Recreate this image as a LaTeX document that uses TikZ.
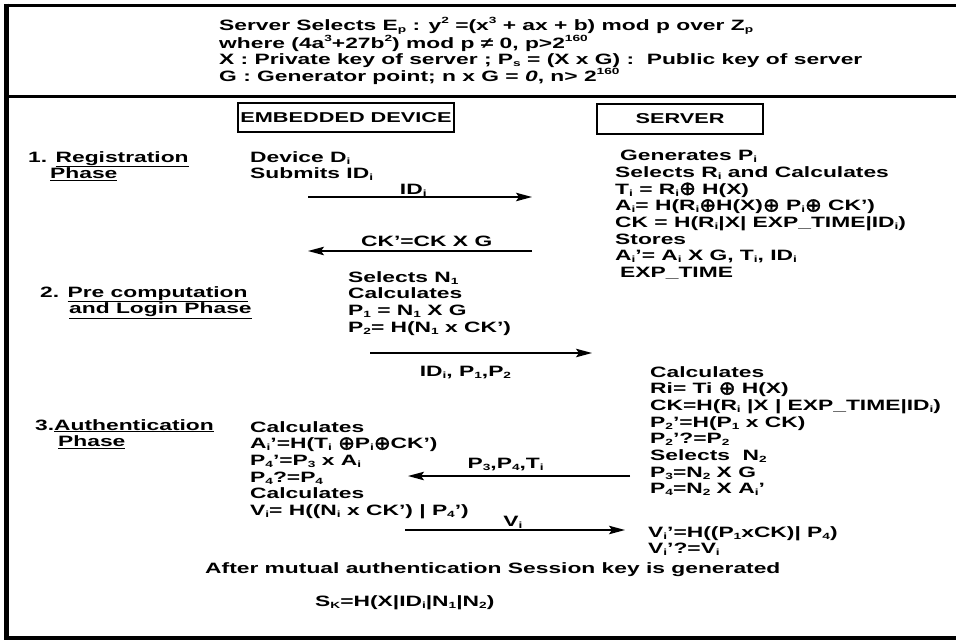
\documentclass[tikz,border=0pt]{standalone}
\usepackage{fontspec}
\setmainfont{Liberation Sans}[FakeStretch=1.52]
\newfontfamily\dvfont{DejaVu Sans}[FakeStretch=1.05, FakeBold=2]
\usetikzlibrary{arrows.meta}

\newcommand\sbs[1]{\raisebox{-0.25ex}{\fontsize{9}{9}\selectfont #1}}
\newcommand\sps[1]{\raisebox{0.85ex}{\fontsize{9}{9}\selectfont #1}}
\newcommand\xor{\raisebox{-0.8pt}{\dvfont\mdseries\fontsize{19}{19}\selectfont ⊕}}

\begin{document}
\begin{tikzpicture}[x=1pt, y=-1pt,
    every node/.style={font=\fontsize{15}{16.7}\selectfont\bfseries},
    txt/.style={anchor=north west, align=left, inner sep=0pt},
    hdrbox/.style={draw, line width=1.6pt, inner sep=0pt, font=\fontsize{14.3}{16}\selectfont\bfseries},
    lbl/.style={inner sep=1pt},
    msg/.style={line width=1.4pt, -{Stealth[length=16pt, width=8.5pt, inset=3pt]}}]
    \useasboundingbox (0,0) rectangle (956,641);

    % frame
    \draw[line width=3pt] (7,5) -- (962,5);
    \draw[line width=3pt] (7,96) -- (962,96);
    \draw[line width=3.5pt] (7,638) -- (962,638);
    \draw[line width=5pt] (6.5,3.5) -- (6.5,640);

    % curve parameters
    \node[txt] (curve) at (219,17) {Server Selects E\sbs{p} : y\sps{2} =(x\sps{3} + ax + b) mod p over Z\sbs{p}\\
        where (4a\sps{3}+27b\sps{2}) mod p ≠ 0, p>2\sps{160}\\
        X : Private key of server ; P\sbs{s} = (X x G) :~ Public key of server\\
        G : Generator point; n x G = \textit{0}, n> 2\sps{160}};

    % parties
    \node[hdrbox, minimum width=216, minimum height=29] (dev) at (346,117.5) {EMBEDDED DEVICE};
    \node[hdrbox, minimum width=166, minimum height=30] (srv) at (680,119) {SERVER};

    % phases
    \node[txt] (ph1) at (28,151) {1. \underline{Registration}\\\hspace*{22pt}\underline{Phase}};
    \node[txt] (ph2) at (40,286) {2. \underline{Pre computation}\\\hspace*{29pt}\underline{and Login Phase}};
    \node[txt] (ph3) at (35,419) {3.\underline{Authentication}\\\hspace*{23pt}\underline{Phase}};

    % device side
    \node[txt] (d1) at (250,151) {Device D\sbs{i}\\Submits ID\sbs{i}};
    \node[txt] (d2) at (348,271) {Selects N\sbs{1}\\Calculates\\P\sbs{1} = N\sbs{1} X G\\P\sbs{2}= H(N\sbs{1} x CK’)};
    \node[txt] (d3) at (250,421) {Calculates\\A\sbs{i}’=H(T\sbs{i} \xor P\sbs{i}\xor CK’)\\P\sbs{4}’=P\sbs{3} x A\sbs{i}\\P\sbs{4}?=P\sbs{4}\\Calculates\\V\sbs{i}= H((N\sbs{i} x CK’) | P\sbs{4}’)};

    % server side
    \node[txt] (s1) at (615,150) {\hspace*{5pt}Generates P\sbs{i}\\Selects R\sbs{i} and Calculates\\T\sbs{i} = R\sbs{i}\xor{} H(X)\\A\sbs{i}= H(R\sbs{i}\xor H(X)\xor{} P\sbs{i}\xor{} CK’)\\CK = H(R\sbs{i}|X| EXP\_TIME|ID\sbs{i})\\Stores\\A\sbs{i}’= A\sbs{i} X G, T\sbs{i}, ID\sbs{i}\\\hspace*{5pt}EXP\_TIME};
    \node[txt] (s2) at (650,366) {Calculates\\Ri= Ti \xor{} H(X)\\CK=H(R\sbs{i} |X | EXP\_TIME|ID\sbs{i})\\P\sbs{2}’=H(P\sbs{1} x CK)\\P\sbs{2}’?=P\sbs{2}\\Selects~ N\sbs{2}\\P\sbs{3}=N\sbs{2} X G\\P\sbs{4}=N\sbs{2} X A\sbs{i}’};
    \node[txt] (s3) at (648,526) {V\sbs{i}’=H((P\sbs{1}xCK)| P\sbs{4})\\V\sbs{i}’?=V\sbs{i}};

    % session key
    \node[txt] (done) at (205,562) {After mutual authentication Session key is generated};
    \node[txt] (sk) at (315,595) {S\sbs{K}=H(X|ID\sbs{i}|N\sbs{1}|N\sbs{2})};

    % messages
    \coordinate (a1s) at (308,197);
    \coordinate (a1e) at (532,197);
    \coordinate (a2s) at (532,251);
    \coordinate (a2e) at (308,251);
    \coordinate (a3s) at (370,353);
    \coordinate (a3e) at (592,353);
    \coordinate (a4s) at (630,476);
    \coordinate (a4e) at (408,476);
    \coordinate (a5s) at (405,530);
    \coordinate (a5e) at (625,530);

    \draw[msg] (a1s) -- node[lbl, pos=0.47, above=-1pt] (m1) {ID\sbs{i}} (a1e);
    \draw[msg] (a2s) -- node[lbl, pos=0.47, above=3pt] (m2) {CK’=CK X G} (a2e);
    \draw[msg] (a3s) -- node[lbl, pos=0.43, below=11pt] (m3) {ID\sbs{i}, P\sbs{1},P\sbs{2}} (a3e);
    \draw[msg] (a4s) -- node[lbl, pos=0.56, above=3pt] (m4) {P\sbs{3},P\sbs{4},T\sbs{i}} (a4e);
    \draw[msg] (a5s) -- node[lbl, pos=0.49, above=0pt] (m5) {V\sbs{i}} (a5e);
\end{tikzpicture}
\end{document}
